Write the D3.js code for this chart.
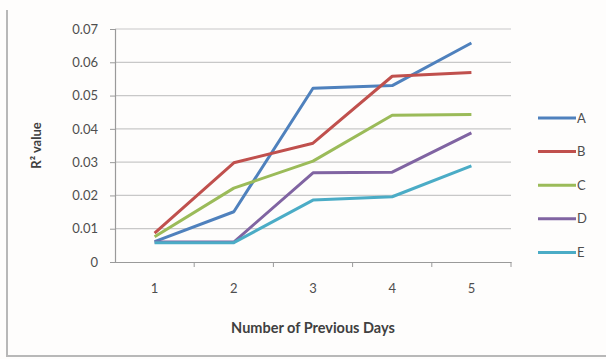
<!DOCTYPE html>
<html>
<head>
<meta charset="utf-8">
<script src="https://cdn.jsdelivr.net/npm/d3@7"></script>
<style>
  html, body { margin: 0; padding: 0; background: #fefdfc; }
  svg { display: block; }
</style>
</head>
<body>
<svg id="chart" width="606" height="359"></svg>
<script>
// Previous-day window sizes on the x axis
const days = ["1", "2", "3", "4", "5"];

// R² value for each series
const seriesA = [0.0061, 0.0151, 0.0522, 0.0530, 0.0658];
const seriesB = [0.0087, 0.0298, 0.0357, 0.0558, 0.0569];
const seriesC = [0.0076, 0.0222, 0.0303, 0.0441, 0.0443];
const seriesD = [0.0060, 0.0060, 0.0268, 0.0270, 0.0388];
const seriesE = [0.0058, 0.0058, 0.0186, 0.0196, 0.0289];

const seriesNames = ["A", "B", "C", "D", "E"];
const yTicks = [0, 0.01, 0.02, 0.03, 0.04, 0.05, 0.06, 0.07];

const colors = ["#4f81bd", "#c0504d", "#9bbb59", "#8064a2", "#4bacc6"];
const seriesValues = [seriesA, seriesB, seriesC, seriesD, seriesE];

const svg = d3.select("#chart");
const plot = { left: 115, right: 511, top: 29, bottom: 262 };
const font = "Lato, 'Open Sans', sans-serif";

// Chart frame (left and bottom edges)
svg.append("path")
  .attr("d", "M7,10 V356 H606")
  .attr("fill", "none")
  .attr("stroke", "#b8b8b8")
  .attr("stroke-width", 2);

const x = d3.scaleBand().domain(days).range([plot.left, plot.right]);
const y = d3.scaleLinear().domain([0, 0.07]).range([plot.bottom, plot.top]);

// Horizontal gridlines
svg.append("g")
  .selectAll("line")
  .data(yTicks.slice(1))
  .join("line")
  .attr("x1", plot.left).attr("x2", plot.right)
  .attr("y1", d => y(d)).attr("y2", d => y(d))
  .attr("stroke", "#c8c8c8")
  .attr("stroke-width", 1.2);

// Y axis
const yAxis = svg.append("g")
  .attr("transform", `translate(${plot.left},0)`)
  .call(d3.axisLeft(y).tickValues(yTicks).tickFormat(d => d === 0 ? "0" : d3.format(".2f")(d)).tickSize(5).tickPadding(12));
yAxis.select(".domain").attr("stroke", "#9a9a9a").attr("stroke-width", 1.2);
yAxis.selectAll(".tick line").attr("stroke", "#9a9a9a");
yAxis.selectAll("text")
  .attr("fill", "#4e4e4e")
  .style("font-family", font)
  .style("font-size", "13px");

// X axis with tick marks at band boundaries
const xAxis = svg.append("g")
  .attr("transform", `translate(0,${plot.bottom})`)
  .call(d3.axisBottom(x).tickSize(0).tickPadding(22));
xAxis.select(".domain").attr("stroke", "#9a9a9a").attr("stroke-width", 1.2);
xAxis.selectAll("text")
  .attr("fill", "#4e4e4e")
  .style("font-family", font)
  .style("font-size", "13px");
xAxis.selectAll(".boundary")
  .data(days.slice(1).concat(["end"]))
  .join("line")
  .attr("class", "boundary")
  .attr("x1", (d, i) => i < days.length - 1 ? x(d) : plot.right)
  .attr("x2", (d, i) => i < days.length - 1 ? x(d) : plot.right)
  .attr("y1", 0).attr("y2", 5)
  .attr("stroke", "#9a9a9a");

// Series lines
const line = d3.line()
  .x((d, i) => x(days[i]) + x.bandwidth() / 2)
  .y(d => y(d));

svg.append("g")
  .selectAll("path")
  .data(seriesValues)
  .join("path")
  .attr("d", line)
  .attr("fill", "none")
  .attr("stroke", (d, i) => colors[i])
  .attr("stroke-width", 3)
  .attr("stroke-linejoin", "round");

// Legend
const legend = svg.append("g")
  .selectAll("g")
  .data(seriesNames)
  .join("g")
  .attr("transform", (d, i) => `translate(538,${118 + i * 33.6})`);
legend.append("line")
  .attr("x1", 0).attr("x2", 38)
  .attr("stroke", (d, i) => colors[i])
  .attr("stroke-width", 3);
legend.append("text")
  .attr("x", 39).attr("dy", "0.36em")
  .attr("fill", "#4e4e4e")
  .style("font-family", font)
  .style("font-size", "13px")
  .text(d => d);

// Axis titles
svg.append("text")
  .attr("transform", `translate(41,${(plot.top + plot.bottom) / 2}) rotate(-90)`)
  .attr("text-anchor", "middle")
  .attr("fill", "#404040")
  .style("font-family", font)
  .style("font-size", "13px")
  .style("font-weight", "bold")
  .text("R² value");

svg.append("text")
  .attr("x", (plot.left + plot.right) / 2)
  .attr("y", 333)
  .attr("text-anchor", "middle")
  .attr("fill", "#404040")
  .style("font-family", font)
  .style("font-size", "14.5px")
  .style("font-weight", "bold")
  .text("Number of Previous Days");
</script>
</body>
</html>
